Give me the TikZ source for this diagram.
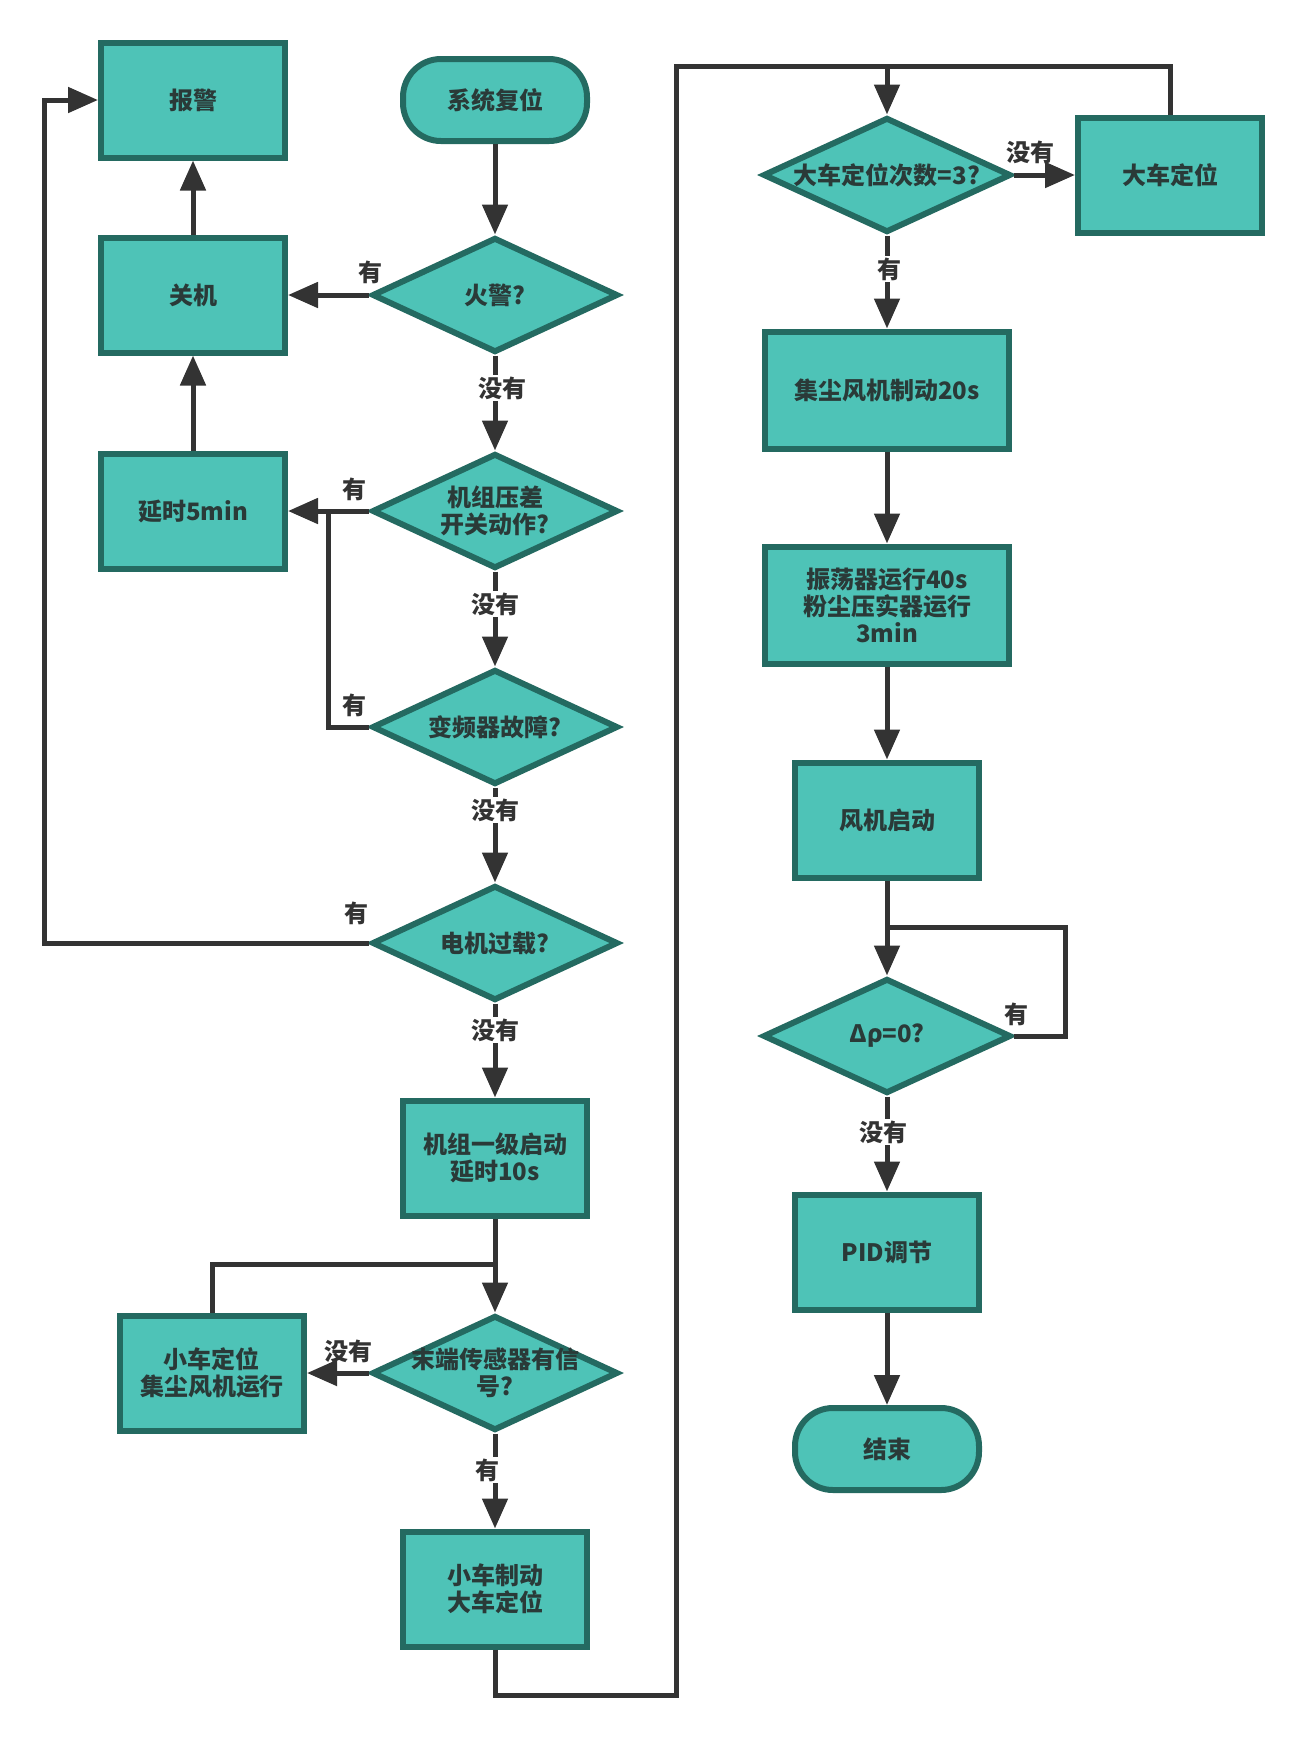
\documentclass[tikz,border=0pt]{standalone}
\usepackage{fontspec}
\setmainfont{Noto Sans CJK SC}
\usetikzlibrary{arrows.meta,shapes.geometric}
\definecolor{fillc}{HTML}{4EC3B7}
\definecolor{bordc}{HTML}{246A61}
\definecolor{linec}{HTML}{333333}
\definecolor{textc}{HTML}{2A3A38}
\begin{document}
\begin{tikzpicture}[x=0.5pt,y=-0.5pt,
 every node/.style={font=\fontsize{12pt}{13.5pt}\selectfont\bfseries, text=textc},
 procbox/.style={draw=bordc, fill=fillc, line width=3pt, minimum width=92pt, minimum height=57.5pt, inner sep=0pt, align=center},
 widebox/.style={procbox, minimum width=122pt, minimum height=58.5pt},
 termbox/.style={procbox, rounded corners=19pt, minimum height=41pt},
 dia/.style={diamond, draw=bordc, fill=fillc, line width=3pt, minimum width=123pt, minimum height=57.5pt, inner sep=0pt},
 conn/.style={draw=linec, line width=2.5pt},
 arr/.style={conn, -{Triangle[width=12.5pt,length=15pt]}},
 lab/.style={inner sep=1pt, text=linec},
 wlab/.style={lab, fill=white},
]
\useasboundingbox (0,0) rectangle (1307,1737);

% left column
\node[procbox] (alarm) at (193,100) {报警};
\node[procbox] (shut)  at (193,295) {关机};
\node[procbox] (delay) at (193,511) {延时5min};
% middle column
\node[termbox] (reset) at (495,100) {系统复位};
\node[dia, label={center:火警?}] (fire) at (495,295) {};
\node[dia, label={[align=center]center:机组压差\\开关动作?}] (press) at (495,511) {};
\node[dia, label={center:变频器故障?}] (vfd) at (495,727) {};
\node[dia, label={center:电机过载?}] (motor) at (495,943) {};
\node[procbox] (start1) at (495,1158) {机组一级启动\\延时10s};
\node[dia, label={[align=center]center:末端传感器有信\\号?}] (sensor) at (495,1373) {};
\node[procbox] (cart) at (212,1373) {小车定位\\集尘风机运行};
\node[procbox] (brake) at (495,1589) {小车制动\\大车定位};
% right column
\node[dia, minimum width=124pt, label={center:大车定位次数=3?}] (count) at (887,175) {};
\node[procbox] (bigpos) at (1170,175) {大车定位};
\node[widebox] (dust) at (887,390) {集尘风机制动20s};
\node[widebox] (osc) at (887,605) {振荡器运行40s\\粉尘压实器运行\\3min};
\node[procbox] (fan) at (887,820) {风机启动};
\node[dia, minimum width=124pt, label={center:Δρ=0?}] (dp) at (887,1036) {};
\node[procbox] (pid) at (887,1252) {PID调节};
\node[termbox] (finish) at (887,1449) {结束};

% helper coordinates
\coordinate (j1) at (328,511);
\coordinate (lc) at (44,100);
\coordinate (j2) at (495,1264);
\coordinate (b1) at (676,1695);
\coordinate (t1) at (887,66);
\coordinate (r1) at (1065,927);
\coordinate (j3) at (887,927);

% connectors
\draw[arr] (reset) -- (fire);
\draw[arr] (fire.west) -- (shut.east);
\draw[arr] (fire.south) -- (press.north);
\draw[arr] (press.west) -- (delay.east);
\draw[arr] (press.south) -- (vfd.north);
\draw[conn] (vfd.west) -| (j1);
\draw[arr] (vfd.south) -- (motor.north);
\draw[arr] (motor.west) -| (lc) -- (alarm.west);
\draw[arr] (motor.south) -- (start1.north);
\draw[arr] (delay.north) -- (shut.south);
\draw[arr] (shut.north) -- (alarm.south);
\draw[arr] (start1.south) -- (sensor.north);
\draw[arr] (sensor.west) -- (cart.east);
\draw[conn] (cart.north) |- (j2);
\draw[arr] (sensor.south) -- (brake.north);
\draw[arr] (brake.south) |- (b1) |- (t1) -- (count.north);
\draw[arr] (count.east) -- (bigpos.west);
\draw[conn] (bigpos.north) |- (t1);
\draw[arr] (count.south) -- (dust.north);
\draw[arr] (dust.south) -- (osc.north);
\draw[arr] (osc.south) -- (fan.north);
\draw[arr] (fan.south) -- (dp.north);
\draw[conn] (dp.east) -| (r1) -- (j3);
\draw[arr] (dp.south) -- (pid.north);
\draw[arr] (pid.south) -- (finish.north);

% labels
\node[lab]  (l1)  at (370,272)  {有};
\node[wlab] (l2)  at (502,388)  {没有};
\node[lab]  (l3)  at (354,489)  {有};
\node[wlab] (l4)  at (495,604)  {没有};
\node[lab]  (l5)  at (354,705)  {有};
\node[wlab] (l6)  at (495,810)  {没有};
\node[lab]  (l7)  at (356,913)  {有};
\node[wlab] (l8)  at (495,1030) {没有};
\node[lab]  (l9)  at (348,1351) {没有};
\node[wlab] (l10) at (487,1470) {有};
\node[lab]  (l11) at (1030,152) {没有};
\node[wlab] (l12) at (889,269)  {有};
\node[lab]  (l13) at (1016,1014) {有};
\node[wlab] (l14) at (883,1132) {没有};
\end{tikzpicture}
\end{document}
